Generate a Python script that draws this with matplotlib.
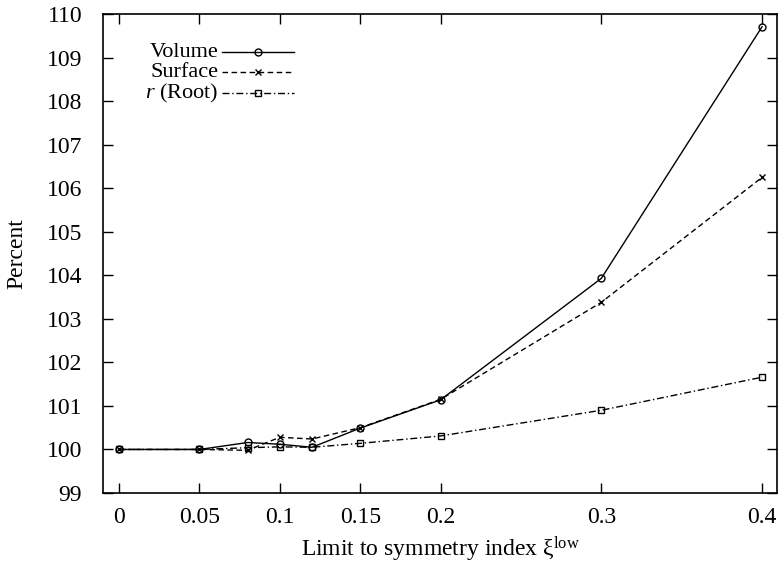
import matplotlib
matplotlib.use("Agg")
import matplotlib.pyplot as plt
from matplotlib.lines import Line2D

plt.rcParams['font.family'] = ['Liberation Serif', 'DejaVu Serif']
plt.rcParams['mathtext.fontset'] = 'custom'
plt.rcParams['mathtext.rm'] = 'Liberation Serif'
plt.rcParams['mathtext.it'] = 'Liberation Serif:italic'

x_vals = [0.0, 0.05, 0.08, 0.10, 0.12, 0.15, 0.20, 0.30, 0.40]
volume = [100.0, 100.0, 100.16, 100.12, 100.05, 100.49, 101.14, 103.93, 109.71]
surface = [100.0, 100.0, 99.98, 100.28, 100.24, 100.50, 101.15, 103.38, 106.25]
root = [100.0, 100.0, 100.04, 100.06, 100.05, 100.14, 100.31, 100.90, 101.66]

x_ticks = [0, 0.05, 0.1, 0.15, 0.2, 0.3, 0.4]
x_tick_labels = ["0", "0.05", "0.1", "0.15", "0.2", "0.3", "0.4"]
y_ticks = list(range(99, 111))

series = [
    ("Volume", volume, '-', 'o'),
    ("Surface", surface, (0, (4, 2.5)), 'x'),
    (r"$r$ (Root)", root, (0, (5, 2, 1, 2)), 's'),
]

fig = plt.figure(figsize=(7.78, 5.66), dpi=100)
ax = fig.add_axes([0.1324, 0.129, 0.8663, 0.846])

for label, vals, ls, mk in series:
    ax.plot(x_vals, vals, color='black', linestyle=ls, linewidth=1.0,
            marker=mk, markersize=5 if mk != 's' else 4.5,
            markerfacecolor='none', markeredgecolor='black', markeredgewidth=1.0)

ax.set_xlim(-0.01, 0.4093)
ax.set_ylim(99, 110)
ax.set_xticks(x_ticks)
ax.set_xticklabels(x_tick_labels)
ax.set_yticks(y_ticks)
ax.tick_params(direction='in', length=7, width=1.0, top=True, right=True,
               labelsize=17)
ax.tick_params(axis='y', pad=15)
ax.tick_params(axis='x', pad=10)
for s in ax.spines.values():
    s.set_linewidth(1.2)

ax.set_xlabel(r"Limit to symmetry index ξ$^{\mathrm{low}}$", fontsize=17, labelpad=5)
ax.set_ylabel("Percent", fontsize=17, labelpad=14)

# manual gnuplot-style legend (text right-aligned, sample to the right)
tr = ax.transAxes
def fx(px):
    return (px - 103) / (777 - 103)
def fy(py):
    return (493 - py) / (493 - 14)
rows_y = [52, 72, 93]
for (label, vals, ls, mk), py in zip(series, rows_y):
    ax.text(fx(218), fy(py), label, transform=tr, ha='right', va='center', fontsize=16)
    ax.add_line(Line2D([fx(222), fx(294)], [fy(py), fy(py)], transform=tr,
                       color='black', linestyle=ls, linewidth=1.0))
    ax.add_line(Line2D([fx(258)], [fy(py)], transform=tr, marker=mk,
                       markersize=5 if mk != 's' else 4.5, markerfacecolor='none',
                       markeredgecolor='black', markeredgewidth=1.0, linestyle='none'))

fig.savefig("out.png", dpi=100)
